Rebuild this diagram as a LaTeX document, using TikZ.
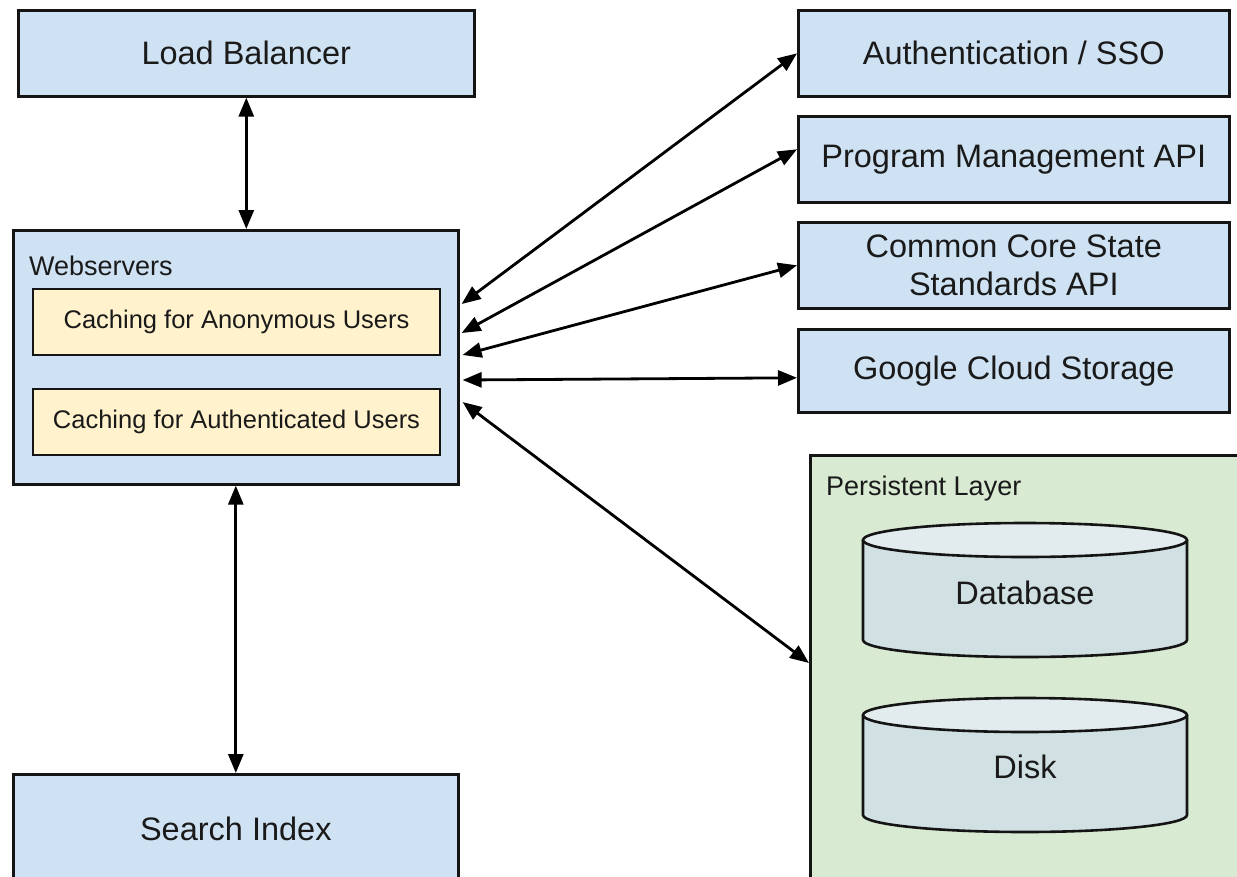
\documentclass[tikz,border=0pt]{standalone}
\usepackage{fontspec}
\setmainfont{Liberation Sans}
\usetikzlibrary{arrows.meta,calc}
\definecolor{boxblue}{HTML}{CFE2F3}
\definecolor{boxyellow}{HTML}{FFF2CC}
\definecolor{boxgreen}{HTML}{D9EAD3}
\definecolor{cylbody}{HTML}{D0E0E3}
\definecolor{cyltop}{HTML}{E2ECEE}
\definecolor{linec}{HTML}{141414}
\definecolor{textc}{HTML}{1A1A1A}
\newcommand\mycyl[3]{%
  \fill[cylbody] (#1-162,#2+17) -- (#1-162,#3-17) arc[start angle=180,end angle=360,x radius=162pt,y radius=17pt] -- (#1+162,#2+17) -- cycle;
  \draw[cylline] (#1-162,#2+17) -- (#1-162,#3-17) arc[start angle=180,end angle=360,x radius=162pt,y radius=17pt] -- (#1+162,#2+17);
  \draw[cylline,fill=cyltop] (#1,#2+17) ellipse[x radius=162pt,y radius=17pt];
}
\begin{document}
\begin{tikzpicture}[x=1pt,y=-1pt,
  box/.style={draw=linec, line width=2.6pt, fill=boxblue, inner sep=0pt, anchor=north west,
    align=center, text=textc, font=\fontsize{32.5}{38}\selectfont},
  cache/.style={box, fill=boxyellow, line width=2pt, font=\fontsize{25.5}{30}\selectfont},
  grp/.style={text=textc, anchor=west, inner sep=0pt, font=\fontsize{27}{32}\selectfont},
  cyltext/.style={text=textc, inner sep=0pt, font=\fontsize{32.5}{38}\selectfont},
  cylline/.style={draw=linec, line width=2.6pt},
  conn/.style={draw=black, line width=2.8pt, {Triangle[length=19pt,width=15pt]}-{Triangle[length=19pt,width=15pt]}}
]
\useasboundingbox (0,0) rectangle (1237,876);
\fill[white] (0,0) rectangle (1237,876);
\clip (0,0) rectangle (1237,876);

\node[box, minimum width=456, minimum height=86] (lb) at (17,9) {Load Balancer};
\node[box, minimum width=445, minimum height=254] (ws) at (12,229) {};
\node[grp] (wslabel) at (29,266) {Webservers};
\node[cache, minimum width=407, minimum height=66] (anon) at (32,288) {Caching for Anonymous Users};
\node[cache, minimum width=407, minimum height=66] (authu) at (32,388) {Caching for Authenticated Users};
\node[box, minimum width=445, minimum height=110] (si) at (12,773) {Search Index};

\node[box, minimum width=431, minimum height=86] (sso) at (797,9) {Authentication / SSO};
\node[box, minimum width=431, minimum height=86] (pm) at (797,115) {Program Management API};
\node[box, minimum width=431, minimum height=86] (ccss) at (797,221) {Common Core State\\Standards API};
\node[box, minimum width=431, minimum height=83] (gcs) at (797,328) {Google Cloud Storage};

\node[box, fill=boxgreen, minimum width=440, minimum height=460] (pl) at (809,454) {};
\node[grp] (pllabel) at (826,489) {Persistent Layer};

\mycyl{1025}{523}{657}
\node[cyltext] (db) at (1025,593) {Database};
\mycyl{1025}{698}{832}
\node[cyltext] (disk) at (1025,767) {Disk};

\draw[conn] (lb.south) -- (lb.south |- ws.north);
\draw[conn] (ws.south) -- (si.north);
\draw[conn] ($(ws.north east)+(2,75)$) -- (sso.west);
\draw[conn] ($(ws.north east)+(2,104)$) -- ($(pm.west)+(0,-10)$);
\draw[conn] ($(ws.north east)+(3,126)$) -- (ccss.west);
\draw[conn] ($(ws.north east)+(3,151)$) -- ($(gcs.west)+(0,7)$);
\draw[conn] ($(ws.north east)+(3,173)$) -- ($(pl.north west)+(0,209)$);
\end{tikzpicture}
\end{document}
